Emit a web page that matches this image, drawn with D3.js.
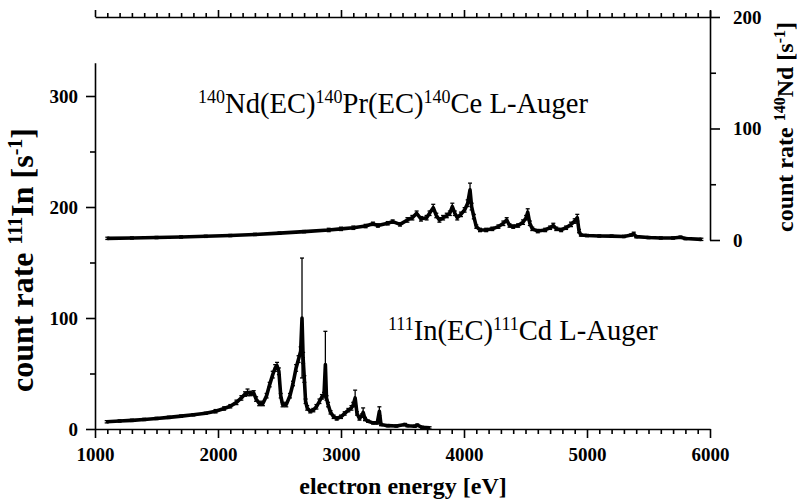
<!DOCTYPE html>
<html lang="en">
<head>
  <meta charset="UTF-8">
  <title>L-Auger spectra</title>
  <script src="https://d3js.org/d3.v7.min.js"></script>
  <style>
    body { margin: 0; background: #fff; }
    svg { display: block; font-family: "Liberation Serif", "Times New Roman", serif; }
    .axis path, .axis line { stroke: #000; stroke-width: 1.6px; }
    .axis text { font-size: 19px; font-weight: bold; fill: #000; font-family: "Liberation Serif", serif; }
  </style>
</head>
<body>
  <script>
    // 140Nd source, read against the right axis (count rate 140Nd)
    const ndEnergy = [1100, 1300, 1500, 1700, 1900, 2100, 2300, 2500, 2700, 2900, 3000, 3100, 3200, 3260, 3300, 3380, 3420, 3480, 3540, 3580,
      3615, 3650, 3696, 3720, 3750, 3775, 3800, 3830, 3860, 3885, 3905, 3925, 3945, 3975, 4005, 4030, 4049, 4062, 4080, 4100,
      4130, 4180, 4230, 4280, 4320, 4347, 4370, 4400, 4440, 4480, 4505, 4518, 4535, 4555, 4600, 4660, 4700, 4726, 4750, 4790,
      4830, 4870, 4900, 4921, 4935, 4950, 5000, 5100, 5200, 5300, 5360, 5380, 5400, 5500, 5600, 5700, 5760, 5800, 5930];
    const ndRate = [1.5, 1.8, 2.2, 2.7, 3.3, 4.0, 5.0, 6.2, 7.5, 9, 10, 11, 12.5, 14.5, 13, 15, 16.5, 14, 18, 20,
      24, 19, 20, 24, 29, 22, 18, 20, 22, 24, 30, 24, 20, 23, 27, 33, 45, 30, 21, 12,
      9, 9, 10, 12, 15, 18, 13, 12, 13, 16, 20, 25, 15, 10, 8, 9, 11, 13, 10, 9,
      11, 14, 17, 20, 8, 4.5, 4, 3.6, 3.5, 3.2, 4.5, 5.5, 3, 2.2, 1.8, 1.8, 2.5, 1.3, 0.6];
    const ndErr = [1, 1, 1, 1, 1, 1, 1, 1, 1, 1.5, 1.5, 1.5, 1.5, 1.5, 1.5, 1.5, 1.5, 1.5, 2, 2,
      2, 2, 2, 2, 3, 2, 2, 2, 2, 2, 3, 2, 2, 2, 2, 3, 6, 3, 2, 1.5,
      1.5, 1.5, 1.5, 1.5, 2, 2, 1.5, 1.5, 1.5, 2, 2, 3, 2, 1.5, 1.5, 1.5, 1.5, 2, 1.5, 1.5,
      1.5, 2, 2, 3, 1.5, 1, 1, 1, 1, 1, 1, 1.5, 1, 1, 1, 1, 1, 1, 1];

    // 111In source, read against the left axis (count rate 111In)
    const inEnergy = [1095, 1200, 1300, 1400, 1500, 1600, 1700, 1800, 1900, 1980, 2050, 2100, 2150, 2190, 2220, 2240, 2265, 2290, 2310, 2335,
      2365, 2395, 2420, 2445, 2465, 2480, 2495, 2510, 2525, 2555, 2585, 2610, 2635, 2655, 2672, 2683, 2692, 2702, 2712, 2725,
      2750, 2775, 2800, 2825, 2845, 2862, 2873, 2882, 2895, 2915, 2940, 2965, 3000, 3030, 3060, 3085, 3100, 3115, 3130, 3150,
      3170, 3180, 3195, 3220, 3260, 3295, 3312, 3325, 3380, 3450, 3520, 3540, 3600, 3620, 3660, 3720];
    const inRate = [6.5, 7.2, 7.8, 8.6, 9.5, 10.5, 11.6, 12.8, 14.2, 16, 18.5, 20.5, 24, 28, 31.5, 33, 32, 32.5, 27, 23,
      23, 30, 40, 49, 55, 57, 52, 30, 22, 22, 30, 41, 55, 63, 70, 100, 64, 45, 25, 19,
      16, 17, 20, 25, 29, 31, 58, 28, 22, 15, 11, 9.5, 11, 14, 17, 19, 22, 28, 14, 9.5,
      12, 15, 9, 7, 5.5, 5.5, 16, 4, 3, 2.7, 4, 3, 2.5, 3.5, 1.5, 1];
    const inErr = [1, 1, 1, 1, 1, 1, 1, 1, 1, 1.5, 1.5, 1.5, 2, 2, 2, 3, 2, 2, 2, 2,
      2, 2, 2, 3, 3, 3, 3, 2, 2, 2, 2, 2, 3, 3, 4, 54, 5, 3, 2, 2,
      1.5, 1.5, 2, 2, 2, 2, 30, 2, 2, 1.5, 1.5, 1.5, 1.5, 1.5, 1.5, 2, 2, 7, 1.5, 1.5,
      1.5, 4, 1.5, 1, 1, 1, 4, 1, 1, 1, 1, 1, 1, 1, 1, 1];

    const W = 797, H = 502;
    const svg = d3.select("body").append("svg").attr("width", W).attr("height", H);

    const x = d3.scaleLinear().domain([1000, 6000]).range([95, 710]);
    const yLeft = d3.scaleLinear().domain([0, 330]).range([429, 62.7]);
    const yRight = d3.scaleLinear().domain([0, 206]).range([240, 10.3]);

    const majorX = d3.range(1000, 6001, 1000);
    const minorX = d3.range(1000, 6001, 100).filter(v => v % 1000 !== 0);

    // bottom axis
    const gBottom = svg.append("g").attr("class", "axis").attr("transform", "translate(0,429)");
    gBottom.call(d3.axisBottom(x).tickValues(majorX).tickFormat(d3.format("d")).tickSize(9).tickSizeOuter(0).tickPadding(10));
    gBottom.append("g").call(d3.axisBottom(x).tickValues(minorX).tickSize(5).tickFormat("")).select(".domain").remove();

    // top axis (no labels)
    const gTop = svg.append("g").attr("class", "axis").attr("transform", "translate(0,17)");
    gTop.call(d3.axisTop(x).tickValues(majorX).tickSize(7).tickSizeOuter(0).tickFormat(""));
    gTop.append("g").call(d3.axisTop(x).tickValues(minorX).tickSize(4).tickFormat("")).select(".domain").remove();

    // left axis
    const gLeft = svg.append("g").attr("class", "axis").attr("transform", "translate(95,0)");
    gLeft.call(d3.axisLeft(yLeft).tickValues([0, 100, 200, 300]).tickSize(9).tickSizeOuter(0).tickPadding(8));
    gLeft.append("g").call(d3.axisLeft(yLeft).tickValues([50, 150, 250]).tickSize(5).tickFormat("")).select(".domain").remove();

    // right axis
    const gRight = svg.append("g").attr("class", "axis").attr("transform", "translate(710,0)");
    gRight.call(d3.axisRight(yRight).tickValues([0, 100, 200]).tickSize(10).tickSizeOuter(0).tickPadding(13));
    gRight.append("g").call(d3.axisRight(yRight).tickValues([50, 150]).tickSize(6).tickFormat("")).select(".domain").remove();

    // spectra
    function drawSpectrum(energy, rate, err, y) {
      const pts = energy.map((e, i) => ({ e, v: rate[i], s: err[i] }));
      const g = svg.append("g");
      g.append("path")
        .datum(pts)
        .attr("fill", "none")
        .attr("stroke", "#000")
        .attr("stroke-width", 3.6)
        .attr("stroke-linejoin", "round")
        .attr("d", d3.line().x(d => x(d.e)).y(d => y(d.v)));
      const bars = g.selectAll("g.err").data(pts).join("g").attr("class", "err");
      bars.append("line")
        .attr("x1", d => x(d.e)).attr("x2", d => x(d.e))
        .attr("y1", d => y(d.v - d.s)).attr("y2", d => y(d.v + d.s))
        .attr("stroke", "#000").attr("stroke-width", 1.3);
      bars.selectAll("line.cap").data(d => [d.v - d.s, d.v + d.s].map(v => ({ e: d.e, v })))
        .join("line").attr("class", "cap")
        .attr("x1", d => x(d.e) - 2).attr("x2", d => x(d.e) + 2)
        .attr("y1", d => y(d.v)).attr("y2", d => y(d.v))
        .attr("stroke", "#000").attr("stroke-width", 1.3);
    }
    drawSpectrum(ndEnergy, ndRate, ndErr, yRight);
    drawSpectrum(inEnergy, inRate, inErr, yLeft);

    // text with superscripts
    function rich(sel, parts, supSize) {
      parts.forEach(([t, sup]) => {
        sel.append("tspan")
          .attr("font-size", sup ? supSize : null)
          .attr("baseline-shift", sup ? "super" : null)
          .text(t);
      });
      return sel;
    }

    rich(svg.append("text").attr("x", 198).attr("y", 113).attr("font-size", 28.6),
      [["140", 1], ["Nd(EC)"], ["140", 1], ["Pr(EC)"], ["140", 1], ["Ce L-Auger"]], 18);
    rich(svg.append("text").attr("x", 388).attr("y", 340).attr("font-size", 28.6),
      [["111", 1], ["In(EC)"], ["111", 1], ["Cd L-Auger"]], 18);

    svg.append("text")
      .attr("x", 403).attr("y", 494)
      .attr("text-anchor", "middle")
      .attr("font-size", 24).attr("font-weight", "bold")
      .text("electron energy [eV]");

    rich(svg.append("text")
      .attr("transform", "translate(33,260) rotate(-90)")
      .attr("text-anchor", "middle")
      .attr("font-size", 32).attr("font-weight", "bold"),
      [["count rate "], ["111", 1], ["In [s"], ["-1", 1], ["]"]], 20);

    rich(svg.append("text")
      .attr("transform", "translate(793,127) rotate(-90)")
      .attr("text-anchor", "middle")
      .attr("font-size", 24).attr("font-weight", "bold"),
      [["count rate "], ["140", 1], ["Nd [s"], ["-1", 1], ["]"]], 16);
  </script>
</body>
</html>
